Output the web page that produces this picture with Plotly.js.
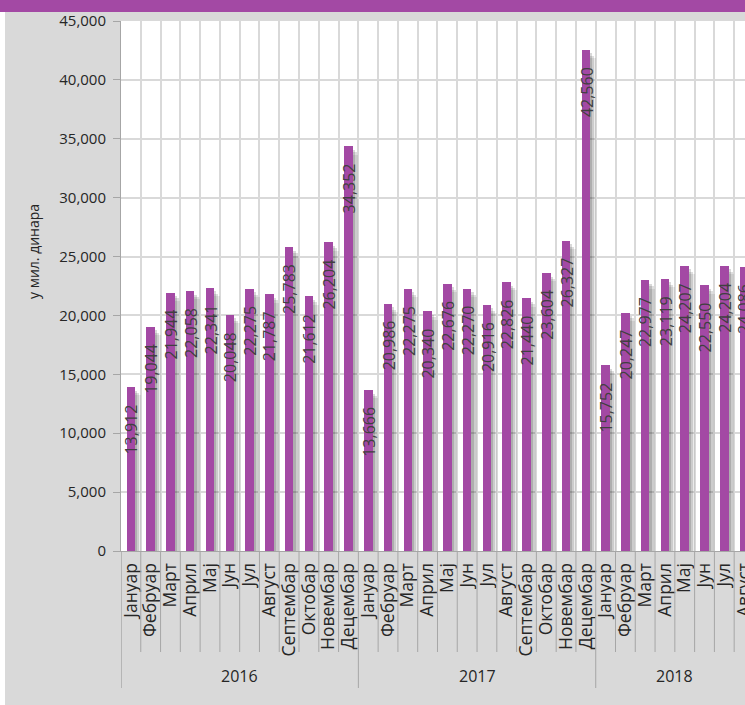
<!DOCTYPE html>
<html>
<head>
<meta charset="utf-8">
<script src="https://cdn.plot.ly/plotly-3.0.1.min.js"></script>
<style>html,body{margin:0;padding:0;background:#fff;}#chart{width:745px;height:705px;}</style>
</head>
<body>
<div id="chart"></div>
<script>
// ---- data ----
const months = ['Јануар','Фебруар','Март','Април','Мај','Јун','Јул','Август','Септембар','Октобар','Новембар','Децембар'];
const years = ['2016','2017','2018'];
const values2016 = [13912, 19044, 21944, 22058, 22341, 20048, 22275, 21787, 25783, 21612, 26204, 34352];
const values2017 = [13666, 20986, 22275, 20340, 22676, 22270, 20916, 22826, 21440, 23604, 26327, 42560];
const values2018 = [15752, 20247, 22977, 23119, 24207, 22550, 24204, 24086];
const yTickVals = [0, 5000, 10000, 15000, 20000, 25000, 30000, 35000, 40000, 45000];
const yTitle = 'у мил. динара';

// ---- build ----
const series = [values2016, values2017, values2018];
const keys = [], labels = [], vals = [], groupStart = [], groupLen = [];
series.forEach((arr, gi) => {
  groupStart.push(keys.length); groupLen.push(arr.length);
  arr.forEach((v, mi) => { keys.push(years[gi] + '-' + mi); labels.push(months[mi]); vals.push(v); });
});

const W = 745, H = 705, L = 121, R = 0, T = 21, B = 154;
const plotW = W - L - R, plotH = H - T - B;
const catPx = 19.78;
const xMax = -0.5 + plotW / catPx;
const px2py = p => (H - B - p) / plotH;   // pixel y -> paper y
const px2px = p => (p - L) / plotW;       // pixel x -> paper x

const barW = 0.43, barOff = -barW / 2;
const purple = '#A349A4';

const shadowLayers = [
  {dx: 0.08, w: 0.46, base: -300, c: 'rgba(0,0,0,0.15)'},
  {dx: 0.18, w: 0.46, base: -500, c: 'rgba(0,0,0,0.13)'},
  {dx: 0.28, w: 0.44, base: -700, c: 'rgba(0,0,0,0.08)'}
];
const traces = shadowLayers.map(s => ({
  type: 'bar', x: keys, y: vals, base: s.base, width: s.w, offset: barOff + s.dx,
  marker: {color: s.c, line: {width: 0}}, hoverinfo: 'skip', showlegend: false
}));
traces.push({
  type: 'bar', x: keys, y: vals, width: barW, offset: barOff,
  marker: {color: purple, line: {width: 0}}, showlegend: false
});

const fmt = v => v.toLocaleString('en-US');
const annotations = keys.map((k, i) => ({
  x: k, y: vals[i], xref: 'x', yref: 'y', text: fmt(vals[i]), showarrow: false,
  textangle: -90, yanchor: 'top', xanchor: 'center', yshift: -15, xshift: 0.5,
  font: {family: 'Open Sans, sans-serif', size: 16, color: '#404040'}
}));
years.forEach((y, gi) => {
  annotations.push({
    x: groupStart[gi] + (groupLen[gi] - 1) / 2,
    y: px2py(676), xref: 'x', yref: 'paper', text: y, showarrow: false,
    xanchor: 'center', yanchor: 'middle',
    font: {family: 'Open Sans, sans-serif', size: 16, color: '#262626'}
  });
});
annotations.push({
  x: px2px(33), y: px2py(252), xref: 'paper', yref: 'paper', text: yTitle, showarrow: false,
  textangle: -90, xanchor: 'center', yanchor: 'middle',
  font: {family: 'Open Sans, sans-serif', size: 14, color: '#262626'}
});

const shapes = [];
// top purple band
shapes.push({type: 'rect', xref: 'paper', yref: 'paper', x0: px2px(0), x1: px2px(W), y0: px2py(12), y1: px2py(0),
  fillcolor: purple, line: {width: 0}, layer: 'above'});
// left white strip
shapes.push({type: 'rect', xref: 'paper', yref: 'paper', x0: px2px(0), x1: px2px(5), y0: px2py(H), y1: px2py(12),
  fillcolor: '#ffffff', line: {width: 0}, layer: 'below'});
// month separators below the axis
keys.forEach((k, i) => {
  if (groupStart.indexOf(i) >= 0) return;
  shapes.push({type: 'line', xref: 'x', yref: 'paper', x0: i - 0.5, x1: i - 0.5, y0: 0, y1: px2py(652),
    line: {color: '#a6a6a6', width: 1}});
});
// year separators
groupStart.concat([keys.length]).forEach(s => {
  const xv = s === 0 ? -0.49 : s - 0.5;
  shapes.push({type: 'line', xref: 'x', yref: 'paper', x0: xv, x1: xv, y0: 0, y1: px2py(688),
    line: {color: '#a6a6a6', width: 1}});
});

const layout = {
  width: W, height: H,
  margin: {l: L, r: R, t: T, b: B, pad: 0},
  paper_bgcolor: '#d9d9d9', plot_bgcolor: '#ffffff',
  barmode: 'overlay', bargap: 0,
  font: {family: 'Open Sans, sans-serif', color: '#404040'},
  xaxis: {
    type: 'category', categoryorder: 'array', categoryarray: keys,
    tickmode: 'array', tickvals: keys, ticktext: labels,
    tickson: 'boundaries', ticks: '',
    ticklabelstandoff: 4,
    tickangle: -90, tickfont: {family: 'Open Sans, sans-serif', size: 17.5, color: '#262626'},
    showgrid: true, gridcolor: '#d9d9d9', gridwidth: 2,
    showline: true, linecolor: '#a6a6a6', linewidth: 1,
    range: [-0.5, xMax], fixedrange: true, zeroline: false
  },
  yaxis: {
    range: [0, 45000], tickmode: 'array', tickvals: yTickVals, tickformat: ',',
    ticks: 'outside', ticklen: 7, tickwidth: 1, tickcolor: '#a6a6a6',
    ticklabelstandoff: 4,
    tickfont: {family: 'Open Sans, sans-serif', size: 15, color: '#262626'},
    showgrid: true, gridcolor: '#d9d9d9', gridwidth: 2,
    showline: true, linecolor: '#a6a6a6', linewidth: 1, zeroline: false
  },
  annotations: annotations,
  shapes: shapes
};

Plotly.newPlot('chart', traces, layout, {displayModeBar: false, staticPlot: true});
</script>
</body>
</html>
